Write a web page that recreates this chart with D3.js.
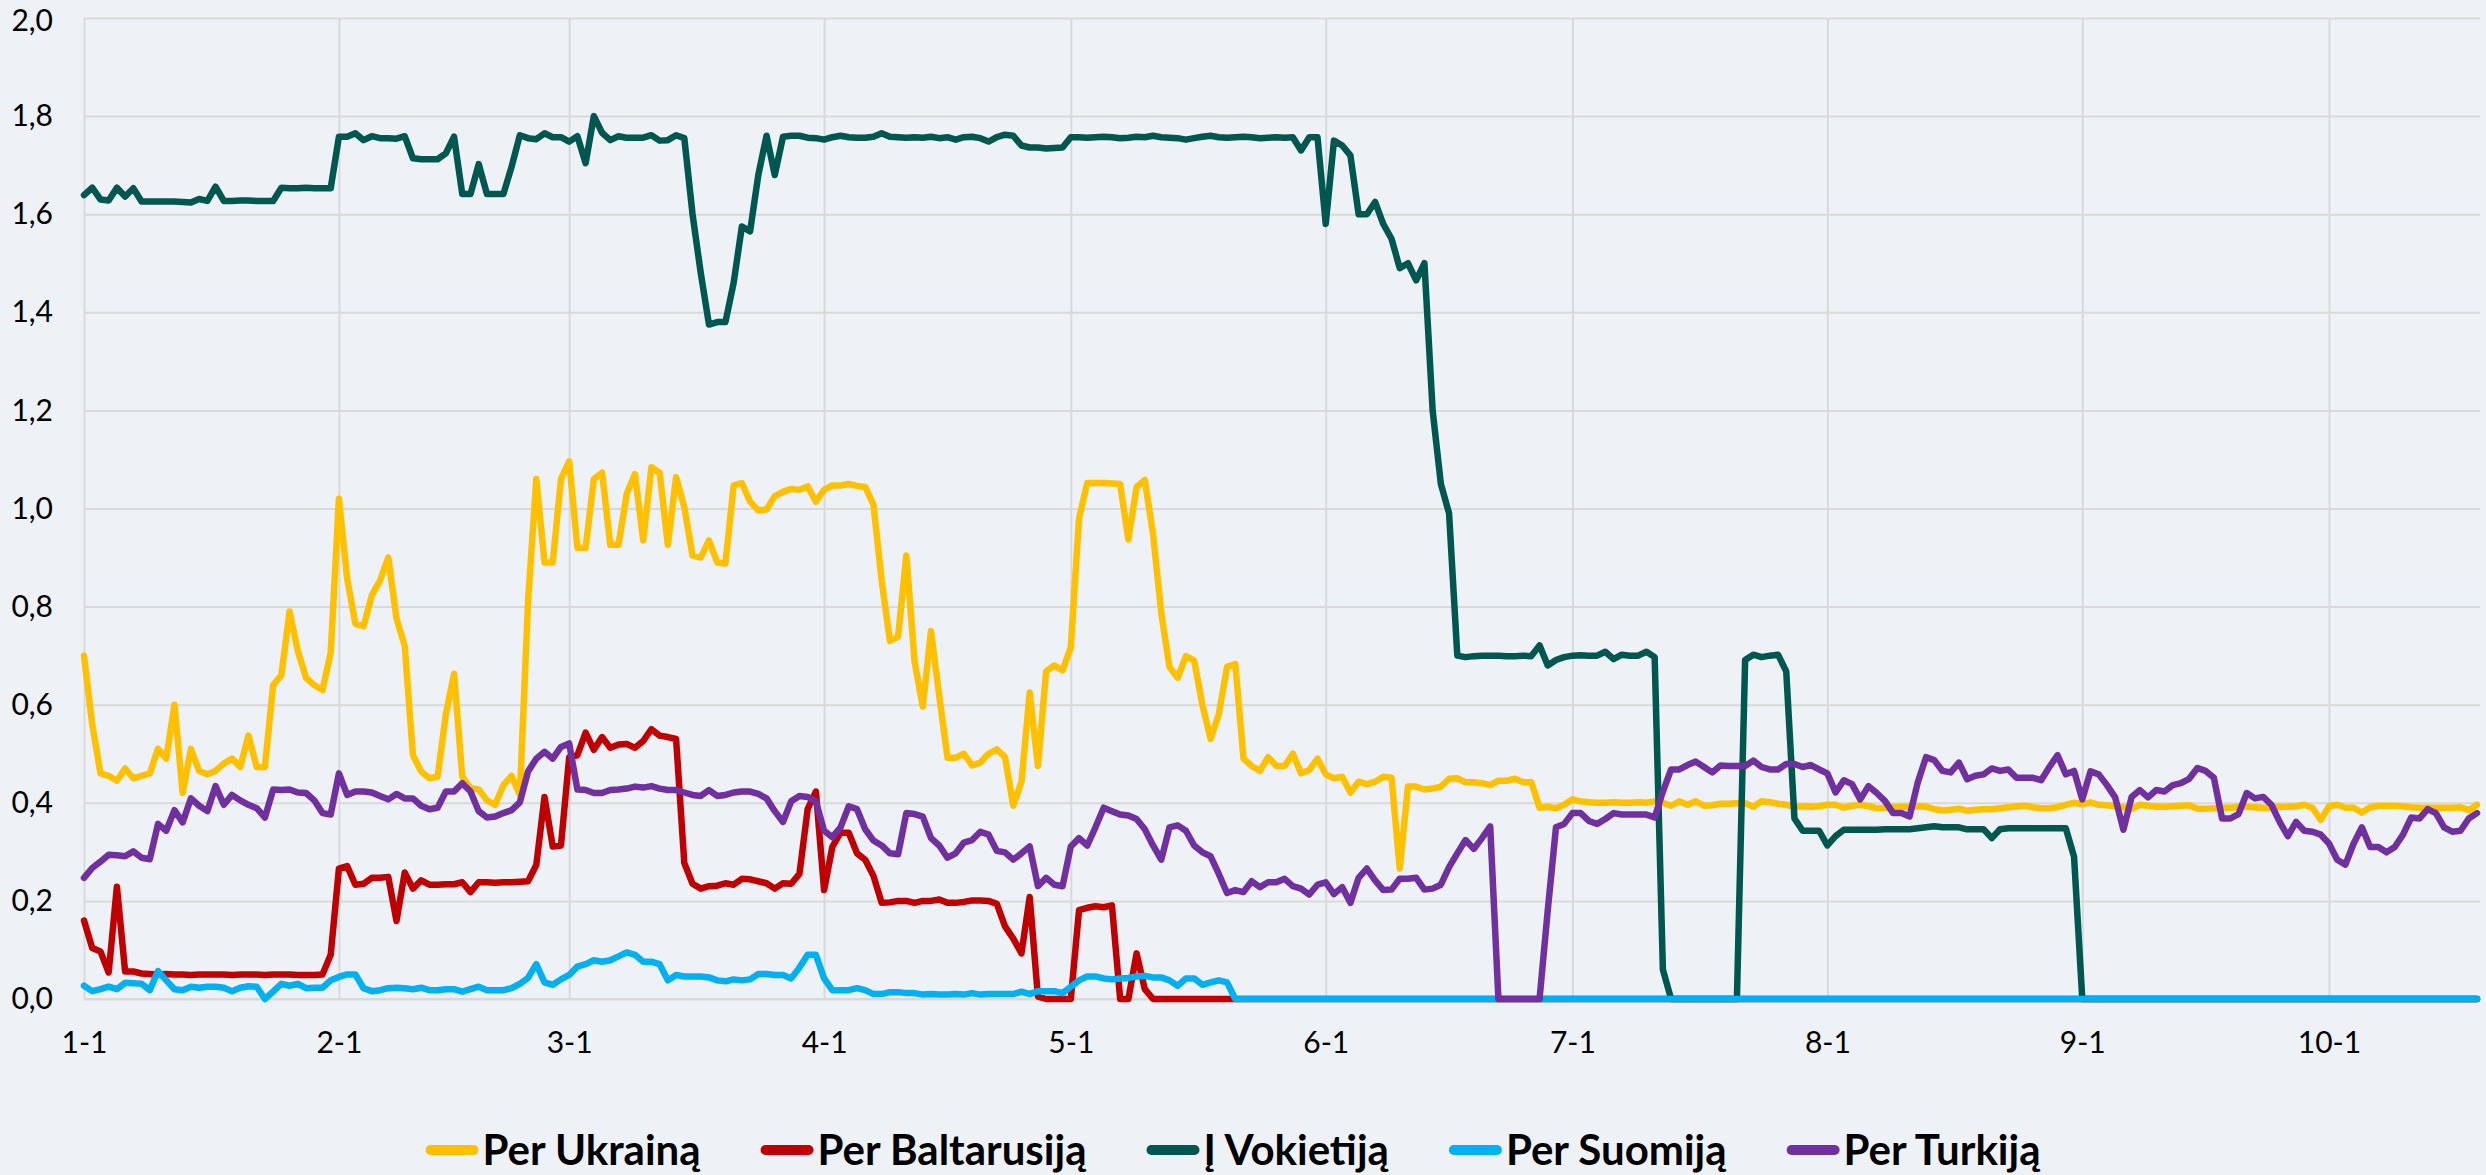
<!DOCTYPE html>
<html>
<head>
<meta charset="utf-8">
<script src="https://cdn.jsdelivr.net/npm/d3@7"></script>
<style>
  body { margin: 0; background: #eef2f6; }
  svg { display: block; }
</style>
</head>
<body>
<svg id="chart"></svg>
<script>
// daily data, 2022-01-01 .. 2022-10-19
const startDay = "2022-01-01";
const monthLabels = ["1-1", "2-1", "3-1", "4-1", "5-1", "6-1", "7-1", "8-1", "9-1", "10-1"];
const yTicks = [0, 0.2, 0.4, 0.6, 0.8, 1.0, 1.2, 1.4, 1.6, 1.8, 2.0];
const seriesNames = ["Per Ukrainą", "Per Baltarusiją", "Į Vokietiją", "Per Suomiją", "Per Turkiją"];
const seriesColors = ["#ffc000", "#c00000", "#00574f", "#00b0f0", "#7030a0"];

const ukraine = [
  0.70,0.56,0.46,0.455,0.445,0.47,0.45,0.455,0.46,0.51,0.49,0.60,0.42,0.51,0.465,0.458,0.465,0.48,0.49,0.473,0.537,0.473,0.473,0.64,0.66,0.79,0.71,0.655,0.64,0.63,
  0.706,1.02,0.857,0.765,0.76,0.823,0.853,0.90,0.776,0.72,0.497,0.464,0.45,0.453,0.58,0.663,0.453,0.43,0.427,0.405,0.396,0.436,0.455,0.416,0.81,1.06,0.89,0.89,1.06,1.096,
  0.92,0.92,1.06,1.073,0.926,0.926,1.03,1.07,0.935,1.084,1.073,0.926,1.064,1.003,0.904,
  0.90,0.935,0.89,0.888,1.047,1.052,1.014,0.996,0.998,1.025,1.034,1.04,1.038,1.045,1.014,
  1.038,1.047,1.047,1.05,1.046,1.044,1.008,0.853,0.73,0.739,0.904,0.688,0.596,0.75,0.618,
  0.492,0.492,0.50,0.476,0.482,0.50,0.509,0.493,0.394,0.443,0.625,0.475,0.668,0.68,0.67,
  0.717,0.98,1.052,1.052,1.052,1.051,1.05,0.937,1.044,1.058,0.948,0.787,0.677,0.655,0.699,
  0.69,0.60,0.53,0.581,0.677,0.683,0.49,0.475,0.465,0.493,0.475,0.475,0.50,0.46,0.467,
  0.49,0.458,0.45,0.453,0.421,0.443,0.438,0.443,0.453,0.451,0.266,0.433,0.433,0.427,0.429,
  0.433,0.449,0.45,0.442,0.442,0.44,0.436,0.445,0.445,0.449,0.442,0.442,0.39,0.392,0.389,
  0.396,0.407,0.403,0.401,0.40,0.40,0.401,0.40,0.40,0.401,0.40,0.403,0.40,0.394,0.403,
  0.396,0.403,0.394,0.395,0.398,0.398,0.399,0.399,0.392,0.403,0.401,0.398,0.396,0.392,0.393,
  0.392,0.393,0.396,0.396,0.39,0.394,0.396,0.393,0.389,0.39,0.391,0.392,0.392,0.393,0.392,
  0.387,0.385,0.386,0.388,0.384,0.386,0.387,0.387,0.389,0.391,0.393,0.394,0.391,0.389,0.389,
  0.391,0.396,0.40,0.397,0.401,0.396,0.395,0.393,0.391,0.387,0.396,0.394,0.392,0.392,0.393,
  0.394,0.395,0.388,0.388,0.389,0.39,0.39,0.392,0.392,0.391,0.39,0.39,0.392,0.392,0.393,
  0.396,0.39,0.365,0.393,0.396,0.39,0.39,0.38,0.391,0.394,0.394,0.394,0.393,0.391,0.39,
  0.39,0.39,0.39,0.39,0.391,0.385,0.396
];

const belarus = [
  0.16,0.104,0.097,0.054,0.229,0.056,0.056,0.052,0.051,0.05,0.051,0.05,0.05,0.049,0.05,0.05,0.05,0.05,0.049,0.05,0.05,0.05,0.049,0.05,0.05,0.05,0.049,0.049,0.049,0.05,
  0.09,0.266,0.271,0.233,0.235,0.247,0.247,0.249,0.159,0.258,0.225,0.242,0.233,0.233,0.234,0.234,0.238,0.218,0.238,0.238,0.237,0.238,0.238,0.239,0.24,0.273,0.412,0.311,0.313,0.493,
  0.497,0.543,0.508,0.534,0.512,0.519,0.52,0.512,0.526,0.55,0.537,0.534,0.53,0.277,0.235,0.225,0.23,0.231,0.236,0.233,0.245,0.244,0.24,0.236,0.225,0.236,0.235,0.255,0.387,0.423,
  0.222,0.31,0.339,0.339,0.297,0.284,0.251,0.196,0.197,0.20,0.20,0.196,0.20,0.20,0.203,0.196,0.196,0.198,0.201,0.201,0.20,0.194,0.148,0.123,0.093,0.208,0.005,0,0,0,
  0,0.181,0.186,0.189,0.187,0.191,0,0,0.093,0.02,0,0,0,0,0,0,0,0,0,0,0,0,0,0,0,0,0,0,0,0,
  0,0,0,0,0,0,0,0,0,0,0,0,0,0,0,0,0,0,0,0,0,0,0,0,0,0,0,0,0,0,
  0,0,0,0,0,0,0,0,0,0,0,0,0,0,0,0,0,0,0,0,0,0,0,0,0,0,0,0,0,0,
  0,0,0,0,0,0,0,0,0,0,0,0,0,0,0,0,0,0,0,0,0,0,0,0,0,0,0,0,0,0,
  0,0,0,0,0,0,0,0,0,0,0,0,0,0,0,0,0,0,0,0,0,0,0,0,0,0,0,0,0,0,
  0,0,0,0,0,0,0,0,0,0,0,0,0,0,0,0,0,0,0,0,0,0
];

const germany = [
  1.639,1.654,1.63,1.628,1.654,1.636,1.653,1.626,1.626,1.626,1.626,1.626,1.625,1.624,1.631,1.627,1.656,1.627,1.627,1.628,1.628,1.627,1.627,1.627,1.654,1.653,1.653,1.654,1.653,1.653,
  1.653,1.758,1.758,1.765,1.751,1.759,1.755,1.755,1.754,1.759,1.714,1.712,1.712,1.712,1.724,1.758,1.641,1.641,1.702,1.641,1.641,1.641,1.697,1.761,1.755,1.753,1.765,1.757,1.757,1.748,
  1.759,1.704,1.80,1.766,1.751,1.759,1.756,1.756,1.756,1.761,1.75,1.751,1.761,1.755,1.60,1.48,1.375,1.38,1.38,1.46,1.575,1.565,1.68,1.76,1.68,1.758,1.76,1.76,1.756,1.755,
  1.752,1.757,1.76,1.757,1.756,1.756,1.758,1.765,1.758,1.757,1.756,1.757,1.756,1.758,1.755,1.757,1.752,1.757,1.758,1.755,1.748,1.757,1.762,1.76,1.74,1.736,1.736,1.734,1.735,1.736,
  1.757,1.757,1.756,1.757,1.758,1.757,1.755,1.756,1.758,1.757,1.76,1.757,1.756,1.755,1.752,1.755,1.758,1.76,1.757,1.756,1.757,1.758,1.757,1.755,1.756,1.757,1.756,1.757,1.73,1.757,
  1.757,1.58,1.75,1.74,1.72,1.60,1.60,1.625,1.58,1.55,1.49,1.50,1.465,1.50,1.20,1.05,0.99,0.70,0.697,0.699,0.70,0.70,0.70,0.699,0.699,0.70,0.699,0.721,0.68,0.691,
  0.697,0.70,0.701,0.70,0.70,0.708,0.693,0.702,0.70,0.70,0.708,0.697,0.06,0,0,0,0,0,0,0,0,0,0.691,0.702,0.697,0.70,0.702,0.668,0.368,0.343,
  0.343,0.343,0.313,0.332,0.345,0.345,0.345,0.345,0.345,0.346,0.346,0.346,0.346,0.348,0.35,0.352,0.35,0.35,0.35,0.346,0.346,0.346,0.328,0.346,0.348,0.348,0.348,0.348,0.348,0.348,
  0.348,0.348,0.29,0,0,0,0,0,0,0,0,0,0,0,0,0,0,0,0,0,0,0,0,0,0,0,0,0,0,0,
  0,0,0,0,0,0,0,0,0,0,0,0,0,0,0,0,0,0,0,0,0,0
];

const finland = [
  0.027,0.016,0.02,0.025,0.02,0.033,0.032,0.031,0.018,0.057,0.038,0.02,0.018,0.025,0.023,0.025,0.025,0.023,0.016,0.023,0.026,0.025,0.0,0.015,0.031,0.027,0.031,0.022,0.023,0.023,
  0.038,0.045,0.05,0.05,0.022,0.016,0.018,0.022,0.023,0.022,0.02,0.023,0.018,0.018,0.02,0.02,0.015,0.02,0.025,0.018,0.018,0.018,0.022,0.031,0.043,0.071,0.034,0.029,0.04,0.049,
  0.066,0.071,0.079,0.076,0.079,0.087,0.095,0.09,0.076,0.076,0.071,0.038,0.049,0.046,0.046,0.046,0.044,0.038,0.036,0.04,0.038,0.04,0.051,0.051,0.049,0.049,0.042,0.064,0.09,0.09,
  0.042,0.018,0.018,0.018,0.022,0.018,0.01,0.01,0.014,0.014,0.012,0.012,0.009,0.01,0.009,0.009,0.01,0.009,0.012,0.009,0.01,0.01,0.01,0.01,0.015,0.01,0.016,0.016,0.016,0.012,
  0.025,0.038,0.046,0.046,0.042,0.04,0.042,0.043,0.046,0.047,0.044,0.044,0.038,0.027,0.042,0.042,0.029,0.034,0.038,0.034,0,0,0,0,0,0,0,0,0,0,
  0,0,0,0,0,0,0,0,0,0,0,0,0,0,0,0,0,0,0,0,0,0,0,0,0,0,0,0,0,0,
  0,0,0,0,0,0,0,0,0,0,0,0,0,0,0,0,0,0,0,0,0,0,0,0,0,0,0,0,0,0,
  0,0,0,0,0,0,0,0,0,0,0,0,0,0,0,0,0,0,0,0,0,0,0,0,0,0,0,0,0,0,
  0,0,0,0,0,0,0,0,0,0,0,0,0,0,0,0,0,0,0,0,0,0,0,0,0,0,0,0,0,0,
  0,0,0,0,0,0,0,0,0,0,0,0,0,0,0,0,0,0,0,0,0,0
];

const turkey = [
  0.247,0.267,0.28,0.294,0.293,0.291,0.301,0.288,0.285,0.357,0.343,0.385,0.36,0.409,0.394,0.383,0.434,0.396,0.416,0.405,0.396,0.389,0.37,0.427,0.426,0.427,0.421,0.42,0.405,0.379,
  0.376,0.46,0.416,0.423,0.423,0.421,0.414,0.407,0.418,0.409,0.409,0.394,0.387,0.39,0.423,0.423,0.44,0.423,0.383,0.37,0.372,0.379,0.385,0.401,0.464,0.49,0.504,0.49,0.514,0.521,
  0.427,0.426,0.42,0.42,0.426,0.427,0.429,0.433,0.431,0.434,0.429,0.426,0.426,0.421,0.416,0.414,0.426,0.414,0.416,0.421,0.423,0.423,0.418,0.409,0.383,0.361,0.403,0.414,0.412,0.403,
  0.343,0.33,0.35,0.393,0.387,0.346,0.323,0.313,0.297,0.295,0.379,0.377,0.372,0.328,0.313,0.288,0.297,0.319,0.324,0.341,0.335,0.302,0.299,0.284,0.297,0.311,0.23,0.247,0.233,0.23,
  0.311,0.328,0.313,0.35,0.39,0.383,0.376,0.374,0.367,0.346,0.313,0.284,0.35,0.354,0.343,0.313,0.299,0.291,0.255,0.216,0.222,0.218,0.24,0.228,0.238,0.238,0.245,0.23,0.225,0.213,
  0.233,0.238,0.214,0.228,0.196,0.247,0.266,0.242,0.222,0.223,0.245,0.245,0.247,0.223,0.225,0.233,0.269,0.297,0.324,0.306,0.328,0.352,0,0,0,0,0,0,0.181,0.35,
  0.357,0.379,0.379,0.363,0.357,0.367,0.379,0.376,0.376,0.376,0.376,0.37,0.423,0.468,0.468,0.477,0.484,0.473,0.462,0.476,0.475,0.475,0.475,0.486,0.473,0.468,0.468,0.479,0.479,0.473,
  0.477,0.468,0.46,0.421,0.446,0.438,0.407,0.434,0.42,0.404,0.379,0.379,0.372,0.442,0.493,0.487,0.465,0.462,0.482,0.448,0.455,0.458,0.47,0.465,0.468,0.451,0.451,0.451,0.446,0.473,
  0.497,0.458,0.465,0.407,0.464,0.458,0.436,0.411,0.345,0.412,0.426,0.411,0.426,0.423,0.436,0.44,0.449,0.471,0.465,0.451,0.368,0.368,0.377,0.42,0.409,0.412,0.396,0.361,0.332,0.361,
  0.343,0.341,0.335,0.317,0.284,0.274,0.317,0.35,0.31,0.31,0.299,0.31,0.335,0.37,0.368,0.387,0.379,0.35,0.341,0.343,0.368,0.379
];

const series = [ukraine, belarus, germany, finland, turkey];

const W = 2486, H = 1175;
const plotLeft = 84, plotRight = 2480, plotTop = 18, plotBottom = 999;
const fontFamily = "Lato, 'Open Sans', sans-serif";

const svg = d3.select("#chart").attr("width", W).attr("height", H);
svg.append("rect").attr("width", W).attr("height", H).attr("fill", "#eef2f6");

const parseDay = d3.timeParse("%Y-%m-%d");
const t0 = parseDay(startDay);
const days = d3.range(ukraine.length).map(i => d3.timeDay.offset(t0, i));
const monthDates = monthLabels.map(l => {
  const [m, d] = l.split("-");
  return parseDay("2022-" + m + "-" + d);
});

const x = d3.scaleTime().domain([days[0], days[days.length - 1]]).range([plotLeft, 2477]);
const y = d3.scaleLinear().domain([0, 2]).range([plotBottom, plotTop]);

// horizontal gridlines + y labels
const yAxis = svg.append("g")
  .attr("transform", `translate(${plotLeft},0)`)
  .call(d3.axisLeft(y)
    .tickValues(yTicks)
    .tickSize(-(plotRight - plotLeft))
    .tickPadding(31)
    .tickFormat(d => d3.format(".1f")(d).replace(".", ",")));
yAxis.select(".domain").remove();
yAxis.selectAll("line").attr("stroke", "#d9d9d9").attr("stroke-width", 2);
yAxis.selectAll("text")
  .attr("fill", "#000")
  .style("font-family", fontFamily)
  .style("font-size", "30px");
// top label sits against the edge, nudge it down a little so it is not clipped
yAxis.selectAll("text").filter(d => d === 2).attr("dy", "0.42em");

// vertical gridlines + month labels
const xAxis = svg.append("g")
  .attr("transform", `translate(0,${plotBottom})`)
  .call(d3.axisBottom(x)
    .tickValues(monthDates)
    .tickSize(-(plotBottom - plotTop))
    .tickFormat((d, i) => monthLabels[i]));
xAxis.select(".domain").remove();
xAxis.selectAll("line").attr("stroke", "#d9d9d9").attr("stroke-width", 2);
xAxis.selectAll("text")
  .attr("y", 43)
  .attr("dy", "0.35em")
  .attr("fill", "#000")
  .style("font-family", fontFamily)
  .style("font-size", "30px");

// baseline
svg.append("line")
  .attr("x1", plotLeft).attr("x2", plotRight)
  .attr("y1", y(0)).attr("y2", y(0))
  .attr("stroke", "#d9d9d9").attr("stroke-width", 2);

const line = d3.line()
  .x((d, i) => x(days[i]))
  .y(d => y(d));

svg.append("g")
  .selectAll("path")
  .data(series)
  .join("path")
  .attr("d", line)
  .attr("fill", "none")
  .attr("stroke", (d, i) => seriesColors[i])
  .attr("stroke-width", 6.5)
  .attr("stroke-linejoin", "round")
  .attr("stroke-linecap", "round");

// legend
const legend = svg.append("g").attr("transform", "translate(0,1150)");
const items = legend.selectAll("g")
  .data(seriesNames)
  .join("g");
items.append("line")
  .attr("x1", 5).attr("x2", 48)
  .attr("stroke", (d, i) => seriesColors[i])
  .attr("stroke-width", 10)
  .attr("stroke-linecap", "round");
items.append("text")
  .attr("x", 57)
  .attr("dy", "0.35em")
  .style("font-family", fontFamily)
  .style("font-size", "42px")
  .style("font-weight", "bold")
  .attr("fill", "#000")
  .text(d => d);

const gap = 60;
const widths = [];
items.each(function () {
  widths.push(57 + d3.select(this).select("text").node().getComputedTextLength());
});
const total = d3.sum(widths) + gap * (widths.length - 1);
let cursor = 1233 - total / 2;
items.attr("transform", (d, i) => {
  const pos = cursor;
  cursor += widths[i] + gap;
  return `translate(${pos},0)`;
});
</script>
</body>
</html>
